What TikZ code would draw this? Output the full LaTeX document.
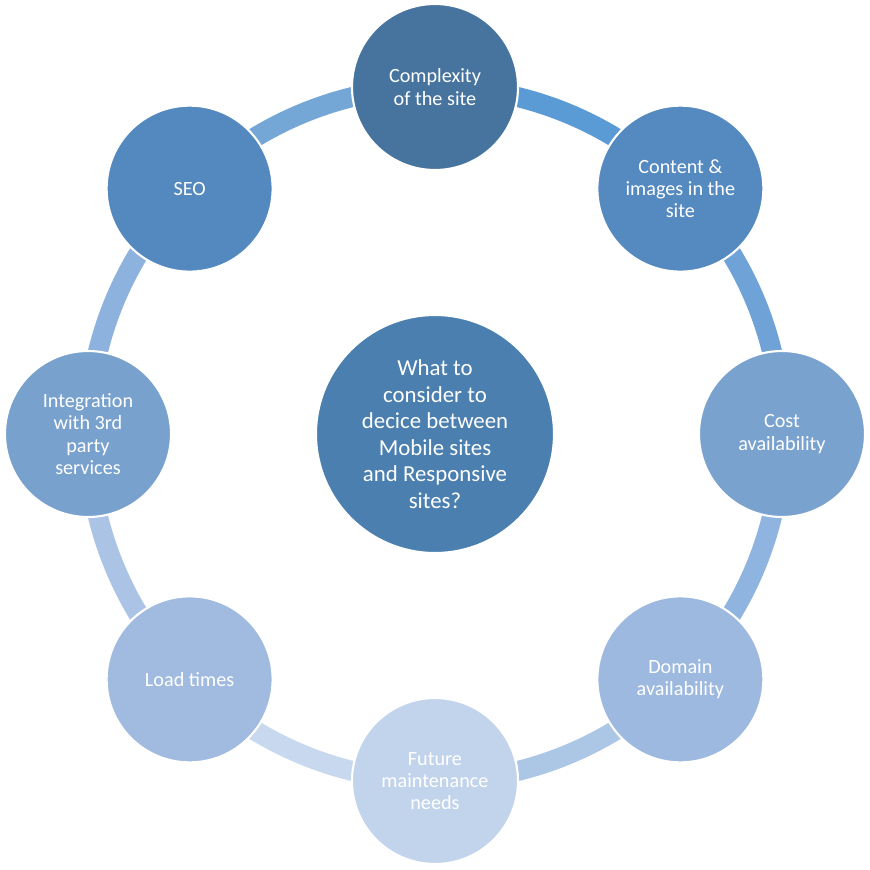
\documentclass[tikz,border=0pt]{standalone}
\usepackage{fontspec}
\setmainfont{Carlito}
\usepackage{tikz}
\definecolor{hubblue}{RGB}{74, 127, 175}
\definecolor{stepone}{RGB}{70, 116, 159}
\definecolor{steptwo}{RGB}{84, 138, 192}
\definecolor{stepthree}{RGB}{121, 162, 207}
\definecolor{stepfour}{RGB}{157, 185, 223}
\definecolor{stepfive}{RGB}{194, 212, 235}
\definecolor{stepsix}{RGB}{160, 187, 223}
\definecolor{stepseven}{RGB}{120, 161, 206}
\definecolor{stepeight}{RGB}{84, 137, 191}
\definecolor{ringa}{RGB}{91, 155, 213}
\definecolor{ringb}{RGB}{111, 163, 216}
\definecolor{ringc}{RGB}{142, 180, 223}
\definecolor{ringd}{RGB}{172, 198, 230}
\definecolor{ringe}{RGB}{200, 216, 238}
\definecolor{ringf}{RGB}{171, 196, 230}
\definecolor{ringg}{RGB}{141, 178, 222}
\definecolor{ringh}{RGB}{116, 166, 214}
\tikzset{
  factor/.style={circle, draw=white, line width=1.2pt, fill=#1,
              minimum size=3.32cm, inner sep=0pt, align=center,
              text=white, font=\fontsize{11.5}{12.7}\selectfont},
  hub/.style={circle, draw=white, line width=1.2pt, fill=hubblue,
              minimum size=4.76cm, inner sep=0pt, align=center,
              text=white, font=\fontsize{13}{15.1}\selectfont},
  ring/.style={line width=0.4cm, color=#1, bend left=22.5, looseness=0.885},
}

\begin{document}
\begin{tikzpicture}
  \useasboundingbox (-8.7,-8.72) rectangle (8.7,8.68);

  % outer ring
  \coordinate (p1) at (90:6.94);
  \coordinate (p2) at (45:6.94);
  \coordinate (p3) at (0:6.94);
  \coordinate (p4) at (-45:6.94);
  \coordinate (p5) at (-90:6.94);
  \coordinate (p6) at (-135:6.94);
  \coordinate (p7) at (180:6.94);
  \coordinate (p8) at (135:6.94);
  \draw[ring=ringa] (p1) to (p2);
  \draw[ring=ringb] (p2) to (p3);
  \draw[ring=ringc] (p3) to (p4);
  \draw[ring=ringd] (p4) to (p5);
  \draw[ring=ringe] (p5) to (p6);
  \draw[ring=ringf] (p6) to (p7);
  \draw[ring=ringg] (p7) to (p8);
  \draw[ring=ringh] (p8) to (p1);

  \node[hub] (question) at (0,0)
        {What to\\consider to\\decice between\\Mobile sites\\and Responsive\\sites?};

  \node[factor=stepone] (complexity) at (p1) {Complexity\\of the site};
  \node[factor=steptwo] (content) at (p2) {Content \&\\images in the\\site};
  \node[factor=stepthree] (cost) at (p3) {Cost\\availability};
  \node[factor=stepfour] (domain) at (p4) {Domain\\availability};
  \node[factor=stepfive] (future) at (p5) {Future\\maintenance\\needs};
  \node[factor=stepsix] (load) at (p6) {Load times};
  \node[factor=stepseven] (integration) at (p7) {Integration\\with 3rd\\party\\services};
  \node[factor=stepeight] (seo) at (p8) {SEO};
\end{tikzpicture}
\end{document}
